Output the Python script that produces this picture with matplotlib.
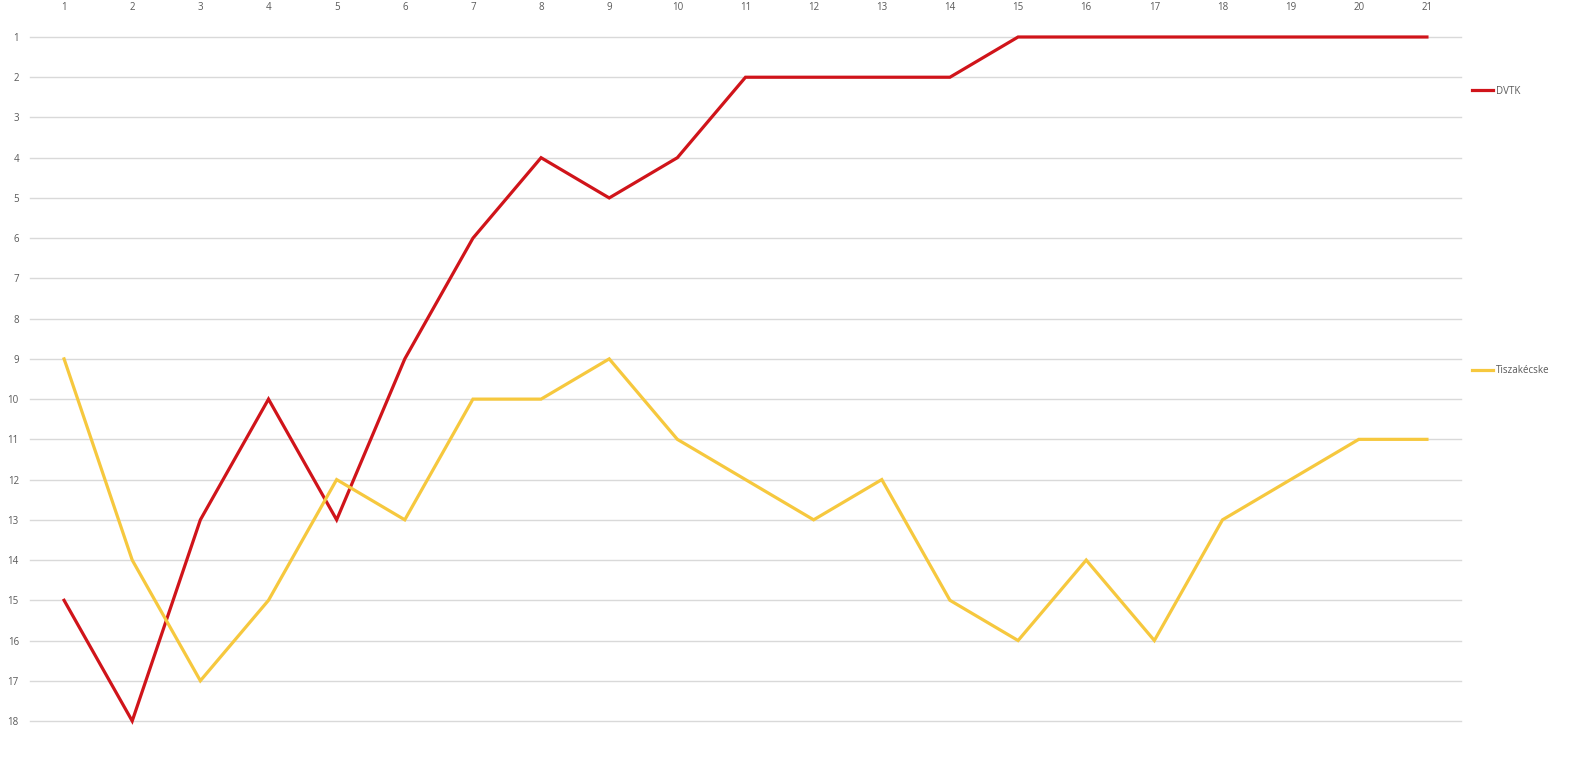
import matplotlib
matplotlib.use('Agg')
import matplotlib.pyplot as plt
from matplotlib.lines import Line2D

rounds = list(range(1, 22))
dvtk = [15, 18, 13, 10, 13, 9, 6, 4, 5, 4, 2, 2, 2, 2, 1, 1, 1, 1, 1, 1, 1]
tiszakecske = [9, 14, 17, 15, 12, 13, 10, 10, 9, 11, 12, 13, 12, 15, 16, 14, 16, 13, 12, 11, 11]
places = list(range(1, 19))

red = '#D0141A'
yellow = '#F6C83E'
grey = '#595959'

plt.rcParams['font.family'] = ['Open Sans', 'DejaVu Sans']

fig = plt.figure(figsize=(15.85, 7.57), dpi=100)
ax = fig.add_axes([30 / 1585, 36 / 757, 1431 / 1585, 684 / 757])

ax.plot(rounds, dvtk, color=red, lw=2.3, solid_joinstyle='miter', clip_on=False, zorder=3)
ax.plot(rounds, tiszakecske, color=yellow, lw=2.3, solid_joinstyle='miter', clip_on=False, zorder=3)

ax.set_xlim(0.5, 21.5)
ax.set_ylim(18, 1)
ax.set_xticks(rounds)
ax.set_yticks(places)
ax.xaxis.tick_top()
ax.tick_params(axis='both', length=0, labelsize=7, labelcolor=grey)
ax.tick_params(axis='x', pad=17)
ax.tick_params(axis='y', pad=8)
ax.grid(axis='y', color='#D9D9D9', lw=1)
for gl in ax.get_ygridlines():
    gl.set_clip_on(False)
ax.set_axisbelow(True)
for s in ax.spines.values():
    s.set_visible(False)

# legend entries spread down the right side like in the original
for label, col, ypos in [('DVTK', red, 91), ('Tiszakécske', yellow, 371)]:
    h = Line2D([], [], color=col, lw=2.3)
    fig.legend([h], [label], loc='center left', bbox_to_anchor=(1472 / 1585, 1 - ypos / 757),
               frameon=False, fontsize=7, labelcolor=grey, handlelength=2.2, handletextpad=0.3,
               borderpad=0, borderaxespad=0)

fig.savefig('out.png', dpi=100)
